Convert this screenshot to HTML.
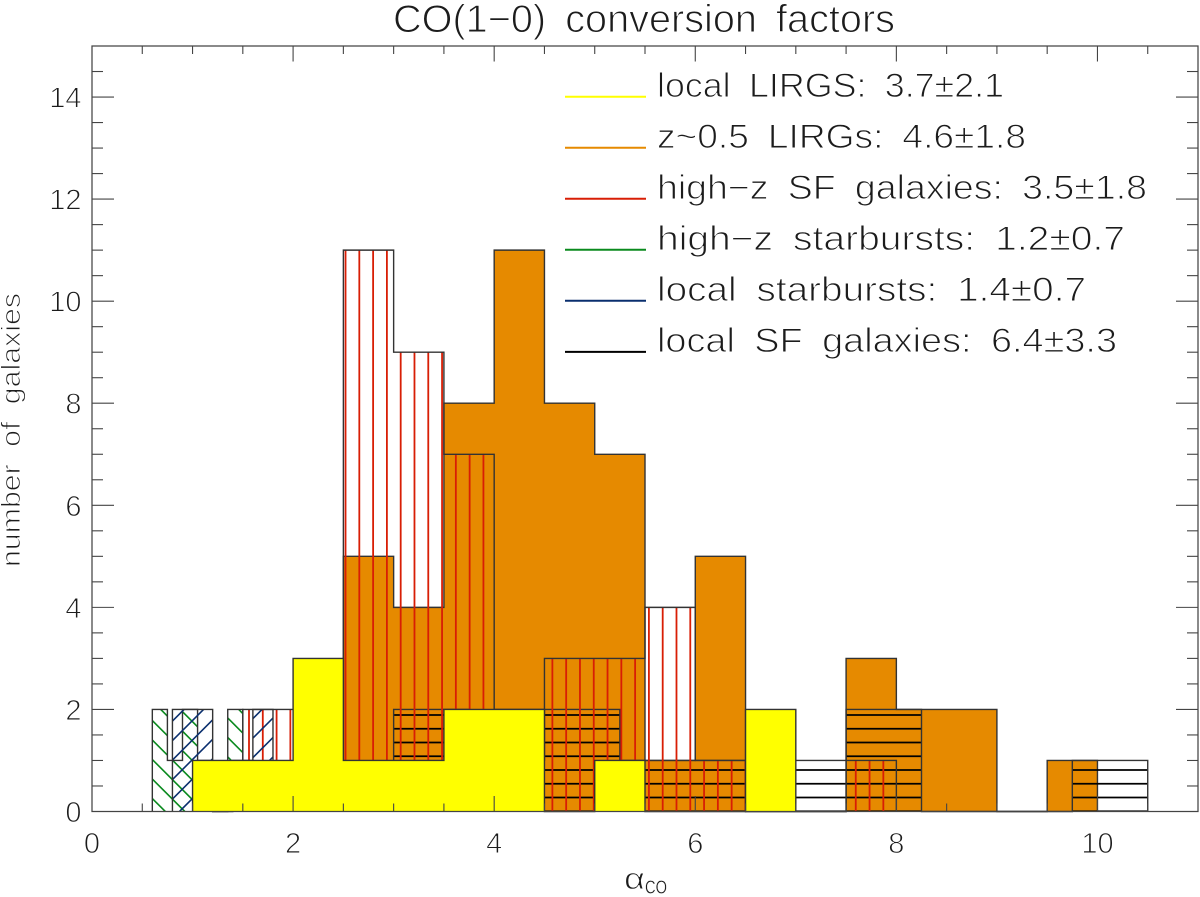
<!DOCTYPE html>
<html lang="en">
<head>
<meta charset="utf-8">
<title>CO(1-0) conversion factors</title>
<style>
html,body{margin:0;padding:0;background:#fff;width:1200px;height:897px;overflow:hidden;}
svg{display:block;overflow:hidden;}
text{font-family:"Liberation Sans","DejaVu Sans",sans-serif;fill:#1c1c1c;stroke:#fff;stroke-width:.9px;paint-order:fill stroke;}
.wide{word-spacing:8px;stroke-width:1px;}
</style>
</head>
<body>
<svg id="chart" width="1200" height="897" viewBox="0 0 1200 897" xmlns="http://www.w3.org/2000/svg">
  <defs id="clips"></defs>
  <g id="series-layer"></g>
  <g id="axis-layer"></g>
  <text class="wide" x="393" y="32" font-size="39" textLength="502" lengthAdjust="spacingAndGlyphs">CO(1−0) conversion factors</text>
  <text class="wide" transform="translate(20,567) rotate(-90)" font-size="27" textLength="274" lengthAdjust="spacingAndGlyphs">number of galaxies</text>
  <text x="624" y="889" font-size="31" textLength="21" lengthAdjust="spacingAndGlyphs">α</text>
  <text x="645" y="893.5" font-size="18" textLength="22" lengthAdjust="spacingAndGlyphs" style="stroke-width:.3px">CO</text>
  <g>
    <line x1="565" x2="646" y1="96.7" y2="96.7" stroke="#ffff00" stroke-width="2"/>
    <text class="wide" x="657" y="97" font-size="34" textLength="347" lengthAdjust="spacingAndGlyphs">local LIRGS: 3.7±2.1</text>
    <line x1="565" x2="646" y1="147.7" y2="147.7" stroke="#e68a00" stroke-width="2"/>
    <text class="wide" x="657" y="148" font-size="34" textLength="369" lengthAdjust="spacingAndGlyphs">z~0.5 LIRGs: 4.6±1.8</text>
    <line x1="565" x2="646" y1="198.8" y2="198.8" stroke="#d81e05" stroke-width="2"/>
    <text class="wide" x="657" y="199" font-size="34" textLength="490" lengthAdjust="spacingAndGlyphs">high−z SF galaxies: 3.5±1.8</text>
    <line x1="565" x2="646" y1="249.8" y2="249.8" stroke="#0a8a1e" stroke-width="2"/>
    <text class="wide" x="657" y="250" font-size="34" textLength="468" lengthAdjust="spacingAndGlyphs">high−z starbursts: 1.2±0.7</text>
    <line x1="565" x2="646" y1="300.8" y2="300.8" stroke="#0a2f6e" stroke-width="2"/>
    <text class="wide" x="657" y="301" font-size="34" textLength="429" lengthAdjust="spacingAndGlyphs">local starbursts: 1.4±0.7</text>
    <line x1="565" x2="646" y1="351.9" y2="351.9" stroke="#000000" stroke-width="2"/>
    <text class="wide" x="657" y="352" font-size="34" textLength="460" lengthAdjust="spacingAndGlyphs">local SF galaxies: 6.4±3.3</text>
  </g>
</svg>
<script>
// Data
const orangeEdges = [2.5,3,3.5,4,4.5,5,5.5,6,6.5,7.5,8,9,9.5,10];
const orangeCounts = [5,4,8,11,8,7,1,5,0,3,2,0,1];
const blackEdges = [3,3.75,4.5,5.25,6,6.75,7.5,8.25,9,9.75,10.5];
const blackCounts = [2,1,2,1,1,1,2,0,0,1];
const redEdges = [1.5,2,2.5,3,3.5,4,4.5,5,5.5,6,6.5,7.5,8];
const redCounts = [2,2,11,9,7,2,3,3,4,1,0,1];
const greenEdges = [0.6,0.75,0.9,1.05,1.2,1.35,1.5];
const greenCounts = [2,1,2,1,0,2];
const blueEdges = [0.8,1,1.2,1.4,1.6,1.8];
const blueCounts = [2,2,0,1,2];
const yellowEdges = [1,2,2.5,3.5,4.5,5,5.5,6.5,7];
const yellowCounts = [1,3,1,2,0,1,0,2];
const xTickLabels = [0,2,4,6,8,10];
const yTickLabels = [0,2,4,6,8,10,12,14];

const NS = 'http://www.w3.org/2000/svg';
const L = 92, R = 1198, T = 46, B = 811.5, XMAX = 11, YMAX = 15;
const xs = v => L + v * (R - L) / XMAX;
const ys = v => B - v * (B - T) / YMAX;
const HATCH = 13.79;

function mk(tag, attrs, parent) {
  const e = document.createElementNS(NS, tag);
  for (const k in attrs) e.setAttribute(k, attrs[k]);
  parent.appendChild(e);
  return e;
}
function stepPath(edges, counts) {
  let d = 'M' + xs(edges[0]) + ' ' + ys(0);
  counts.forEach((c, i) => {
    d += 'L' + xs(edges[i]) + ' ' + ys(c) + 'L' + xs(edges[i + 1]) + ' ' + ys(c);
  });
  return d + 'L' + xs(edges[edges.length - 1]) + ' ' + ys(0);
}
const layer = document.getElementById('series-layer');
const defs = document.getElementById('clips');

// Hatch lines span only the plot area, and only the x-range of their own series
function hatchLines(kind, edges) {
  const out = [];
  const xa = xs(edges[0]), xb = xs(edges[edges.length - 1]);
  if (kind === 'v') for (let x = 249 - 13 * HATCH; x < R; x += HATCH) { if (x > xa && x < xb) out.push([x, T, x, B]); }
  if (kind === 'h') for (let y = 715 - 50 * 13.75; y < B; y += 13.75) { if (y > T) out.push([xa, y, xb, y]); }
  if (kind === 'd') for (let c = 587.7 - 30 * 19.5; c < B - L; c += 19.5) {
    const a = Math.max(xa, T - c), b = Math.min(xb, B - c);
    if (b > a) out.push([a, a + c, b, b + c]);
  }
  if (kind === 'u') for (let c = 913 - 30 * 19.5; c < R + B; c += 19.5) {
    const a = Math.max(xa, c - B), b = Math.min(xb, c - T);
    if (b > a) out.push([a, c - a, b, c - b]);
  }
  return out;
}
function addHist(name, edges, counts, style) {
  const g = mk('g', {}, layer);
  
  
  const d = stepPath(edges, counts);
  if (style.fill) {
    const body = mk('path', {d: d + 'Z', fill: style.fill, stroke: 'none'}, g);
    
    
  }
  if (style.hatch) {
    const id = 'clip-' + name;
    const cp = mk('clipPath', {id: id}, defs);
    mk('path', {d: d + 'Z'}, cp);
    const hg = mk('g', {'clip-path': 'url(#' + id + ')', stroke: style.color, 'stroke-width': style.hw}, g);
    
    
    hatchLines(style.hatch, edges).forEach(p => mk('line', {x1: p[0], y1: p[1], x2: p[2], y2: p[3]}, hg));
  }
  const outline = mk('path', {d: d, fill: 'none', stroke: '#333', 'stroke-width': 1.4}, g);
  
  
}
addHist('z05-lirgs-histogram', orangeEdges, orangeCounts, {fill: '#e68a00'});
addHist('local-sf-histogram', blackEdges, blackCounts, {hatch: 'h', color: '#000', hw: 1.7});
addHist('high-z-sf-histogram', redEdges, redCounts, {hatch: 'v', color: '#d81e05', hw: 1.8});
addHist('high-z-starbursts-histogram', greenEdges, greenCounts, {hatch: 'd', color: '#0a8a1e', hw: 1.6});
addHist('local-starbursts-histogram', blueEdges, blueCounts, {hatch: 'u', color: '#0a2f6e', hw: 1.6});
addHist('local-lirgs-histogram', yellowEdges, yellowCounts, {fill: '#ffff00'});

const ax = document.getElementById('axis-layer');
const frame = mk('rect', {x: L, y: T, width: R - L, height: B - T, fill: 'none', stroke: '#444', 'stroke-width': 1.25}, ax);


const tickStroke = {stroke: '#444', 'stroke-width': 1.1};
function tick(x1, y1, x2, y2, name) {
  const t = mk('line', Object.assign({x1, y1, x2, y2}, tickStroke), ax);
  
  
}
for (let i = 1; i < XMAX * 2; i++) {
  const v = i / 2, major = i % 4 === 0, len = major ? 15.5 : 8;
  tick(xs(v), B, xs(v), B - len, 'x-tick-bottom');
  tick(xs(v), T, xs(v), T + len, 'x-tick-top');
}
for (let i = 1; i < YMAX * 2; i++) {
  const v = i / 2, major = i % 4 === 0, len = major ? 22 : 11;
  tick(L, ys(v), L + len, ys(v), 'y-tick-left');
  tick(R, ys(v), R - len, ys(v), 'y-tick-right');
}
xTickLabels.forEach(v => {
  const t = mk('text', {x: xs(v), y: 853, 'font-size': 29, 'text-anchor': 'middle'}, ax);
  
  
  t.textContent = v;
});
yTickLabels.forEach(v => {
  const t = mk('text', {x: 81.5, y: ys(v) + 10.5, 'font-size': 29, 'text-anchor': 'end'}, ax);
  
  
  t.textContent = v;
});
</script>
</body>
</html>
